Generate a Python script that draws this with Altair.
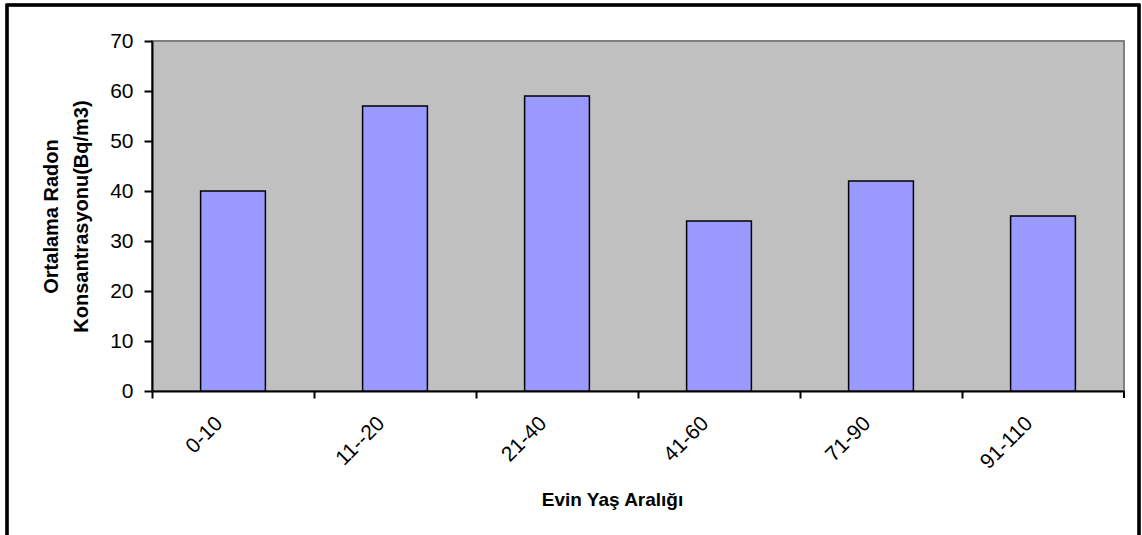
import altair as alt
import pandas as pd

# Average indoor radon concentration by building age group
age_ranges = ["0-10", "11--20", "21-40", "41-60", "71-90", "91-110"]
radon_means = [40, 57, 59, 34, 42, 35]

df = pd.DataFrame({"age": age_ranges, "radon": radon_means})

W, H = 972, 350
FONT = "Liberation Sans"

x_enc = alt.X(
    "age:N",
    sort=age_ranges,
    scale=alt.Scale(paddingInner=0.6, paddingOuter=0.3),
    axis=alt.Axis(
        title="Evin Yaş Aralığı",
        titleFont=FONT,
        titleFontSize=19,
        titleFontWeight="bold",
        titleColor="black",
        titleX=460,
        titleY=114,
        titleAlign="center",
        titleBaseline="alphabetic",
        labelAngle=-45,
        labelAlign="right",
        labelBaseline="middle",
        labelFont=FONT,
        labelFontSize=21,
        labelColor="black",
        labelOffset=67,
        labelPadding=22,
        tickOffset=-81,
        tickSize=7,
        tickWidth=2,
        tickColor="black",
        domainColor="black",
        domainWidth=2,
    ),
)

y_enc = alt.Y(
    "radon:Q",
    scale=alt.Scale(domain=[0, 70], nice=False),
    axis=alt.Axis(
        title=["Ortalama Radon", "Konsantrasyonu(Bq/m3)"],
        titleFont=FONT,
        titleFontSize=20,
        titleFontWeight="bold",
        titleColor="black",
        titleAngle=-90,
        titleX=-95,
        titleY=175,
        titleAlign="center",
        titleBaseline="alphabetic",
        titleLineHeight=30,
        values=[0, 10, 20, 30, 40, 50, 60, 70],
        grid=False,
        labelFont=FONT,
        labelFontSize=21,
        labelColor="black",
        labelPadding=11,
        tickSize=8,
        tickWidth=2,
        tickColor="black",
        domainColor="black",
        domainWidth=2,
    ),
)

bars = alt.Chart(df).mark_bar(
    color="#9999FF", stroke="black", strokeWidth=1.5
).encode(x=x_enc, y=y_enc)

# closing tick at the right end of the category axis
end_tick = alt.Chart(df).mark_rule(color="black", strokeWidth=2).encode(
    x=alt.value(W), y=alt.value(H), y2=alt.value(H + 7)
)

# frame around the whole figure
frame = alt.Chart(df).mark_rect(
    fill="transparent", stroke="black", strokeWidth=2.5
).encode(
    x=alt.value(-145), x2=alt.value(987), y=alt.value(-36), y2=alt.value(600)
)

chart = (
    alt.layer(bars, end_tick, frame)
    .properties(
        width=W,
        height=H,
        autosize=alt.AutoSizeParams(type="none"),
        padding={"left": 152, "top": 41, "right": 18, "bottom": 144},
        background="white",
    )
    .configure_view(fill="#C0C0C0", stroke="#808080", strokeWidth=2)
)

chart.save("out.html", embed_options={"renderer": "svg", "actions": False})
